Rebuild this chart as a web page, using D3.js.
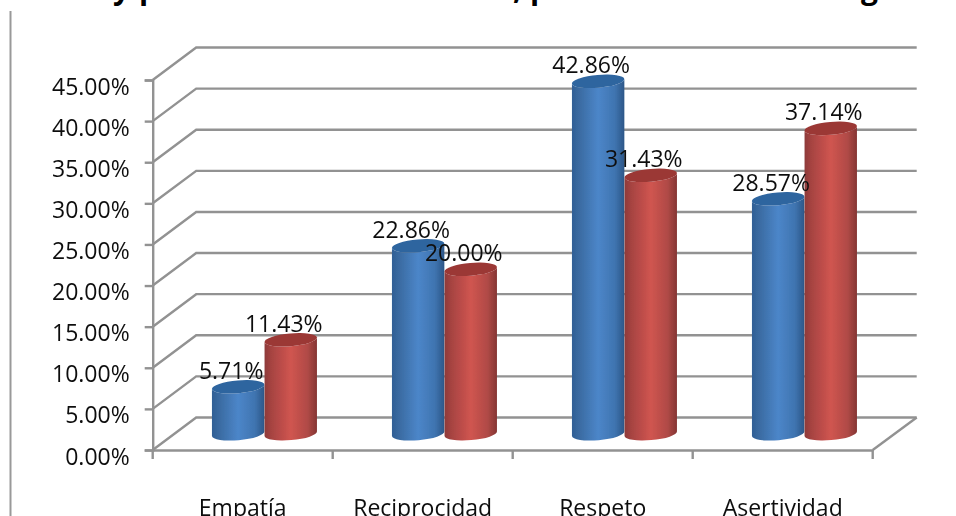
<!DOCTYPE html>
<html><head><meta charset="utf-8">
<script src="https://cdn.jsdelivr.net/npm/d3@7/dist/d3.min.js"></script>
<style>html,body{margin:0;padding:0;background:#fff;overflow:hidden}svg{display:block}text{font-family:"Open Sans",sans-serif;fill:#111}</style>
</head><body><div id="c"></div>
<script>
const categories = ["Empatía","Reciprocidad","Respeto","Asertividad"];
const seriesNames = ["A","B"];
const seriesA = [5.71,22.86,42.86,28.57];
const seriesB = [11.43,20.00,31.43,37.14];
const yTicks = [0,5,10,15,20,25,30,35,40,45];
const titleFragments = [["y",113],["p",139],[",",513],["p",530],["g",861]];

const W=956,H=516, depthX=43.5, depthY=32.5, rx=26.3, ry=6.4, tilt=-5;
const svg=d3.select("#c").append("svg").attr("width",W).attr("height",H);
const defs=svg.append("defs");
defs.append("filter").attr("id","soft").attr("x","-5%").attr("y","-5%").attr("width","110%").attr("height","110%")
  .append("feGaussianBlur").attr("stdDeviation",0.5);
function grad(id,stops){
  const g=defs.append("linearGradient").attr("id",id);
  stops.forEach(([o,c])=>g.append("stop").attr("offset",o).attr("stop-color",c));
}
grad("gA",[[0,"#2f5f95"],[.12,"#39699f"],[.5,"#4c86c9"],[.82,"#3f74b0"],[1,"#2c5788"]]);
grad("gB",[[0,"#8d3a39"],[.12,"#a54341"],[.5,"#d05550"],[.82,"#b04a46"],[1,"#853534"]]);

const y=d3.scaleLinear().domain([0,45]).range([450,80]);
const x=d3.scaleBand().domain(categories).range([152.7,872.7]);
const xs=d3.scaleBand().domain(seriesNames).range([0,105.2]);
const root=svg.append("g").attr("filter","url(#soft)");

root.append("line").attr("x1",10.5).attr("x2",10.5).attr("y1",11).attr("y2",H).attr("stroke","#999").attr("stroke-width",2);

const t=svg.append("g");
titleFragments.forEach(([s,px])=>t.append("text").attr("x",px).attr("y",-1).attr("font-size",30).attr("font-weight",700).style("fill","#000").text(s));

const grid="#929292";
const sw=2.4;
const wall=root.append("g").attr("fill","none").attr("stroke",grid).attr("stroke-width",sw);
yTicks.forEach(v=>{
  const p=d3.path();
  p.moveTo(x.range()[0],y(v));
  p.lineTo(x.range()[0]+depthX,y(v)-depthY);
  p.lineTo(x.range()[1]+depthX+.5,y(v)-depthY);
  wall.append("path").attr("d",p.toString());
});
const floor=d3.path();
floor.moveTo(x.range()[1],y(0));
floor.lineTo(x.range()[1]+depthX+.5,y(0)-depthY);
wall.append("path").attr("d",floor.toString());

const yAxis=d3.axisLeft(y).tickValues(yTicks).tickSize(8).tickPadding(15).tickFormat(d=>d3.format(".2f")(d)+"%");
const gy=root.append("g").attr("transform",`translate(${x.range()[0]},0)`).call(yAxis);
const xAxis=d3.axisBottom(x).tickSize(0).tickPadding(0).tickFormat("");
const gx=root.append("g").attr("transform",`translate(0,${y(0)})`).call(xAxis);
[gy,gx].forEach(g=>{g.selectAll(".domain,line").attr("stroke",grid).attr("stroke-width",sw);});
gy.selectAll("text").attr("font-size",23).attr("dy",14).attr("text-anchor","end");
const boundaries=categories.map(c=>x(c)).concat(x.range()[1]);
root.append("g").selectAll("line").data(boundaries).join("line")
  .attr("x1",d=>d).attr("x2",d=>d).attr("y1",y(0)).attr("y2",y(0)+9)
  .attr("stroke",grid).attr("stroke-width",sw);

root.append("g").selectAll("text").data(categories).join("text")
  .attr("x",d=>x(d)+x.bandwidth()/2).attr("y",516).attr("text-anchor","middle").attr("font-size",23).text(d=>d);

function cyl(g,cx,top,bottom,fill,topFill){
  const dx=rx*Math.cos(tilt*Math.PI/180), dy=rx*Math.sin(tilt*Math.PI/180);
  const p=`M${cx-dx},${top-dy} L${cx-dx},${bottom-dy} A${rx},${ry} ${tilt} 0 0 ${cx+dx},${bottom+dy} L${cx+dx},${top+dy} A${rx},${ry} ${tilt} 0 1 ${cx-dx},${top-dy} Z`;
  g.append("path").attr("d",p).attr("fill",fill);
  g.append("ellipse").attr("rx",rx).attr("ry",ry)
    .attr("transform",`translate(${cx},${top}) rotate(${tilt})`).attr("fill",topFill);
}
const bars=root.append("g");
const baseY=y(0)-depthY/2;
const barTop=v=>y(v)-depthY/2;
const centre=(c,s)=>x(c)+x.bandwidth()/2+depthX/2-52.6+xs(s)+xs.bandwidth()/2;
categories.forEach((c,i)=>{
  cyl(bars,centre(c,"A"),barTop(seriesA[i]),baseY,"url(#gA)","#2f659f");
  cyl(bars,centre(c,"B"),barTop(seriesB[i]),baseY,"url(#gB)","#9b3836");
});
const labels=root.append("g");
[["A",seriesA],["B",seriesB]].forEach(([s,vals])=>{
  categories.forEach((c,i)=>{
    labels.append("text").attr("x",centre(c,s)-7).attr("y",barTop(vals[i])-8)
      .attr("text-anchor","middle").attr("font-size",23).text(d3.format(".2f")(vals[i])+"%");
  });
});
</script></body></html>
